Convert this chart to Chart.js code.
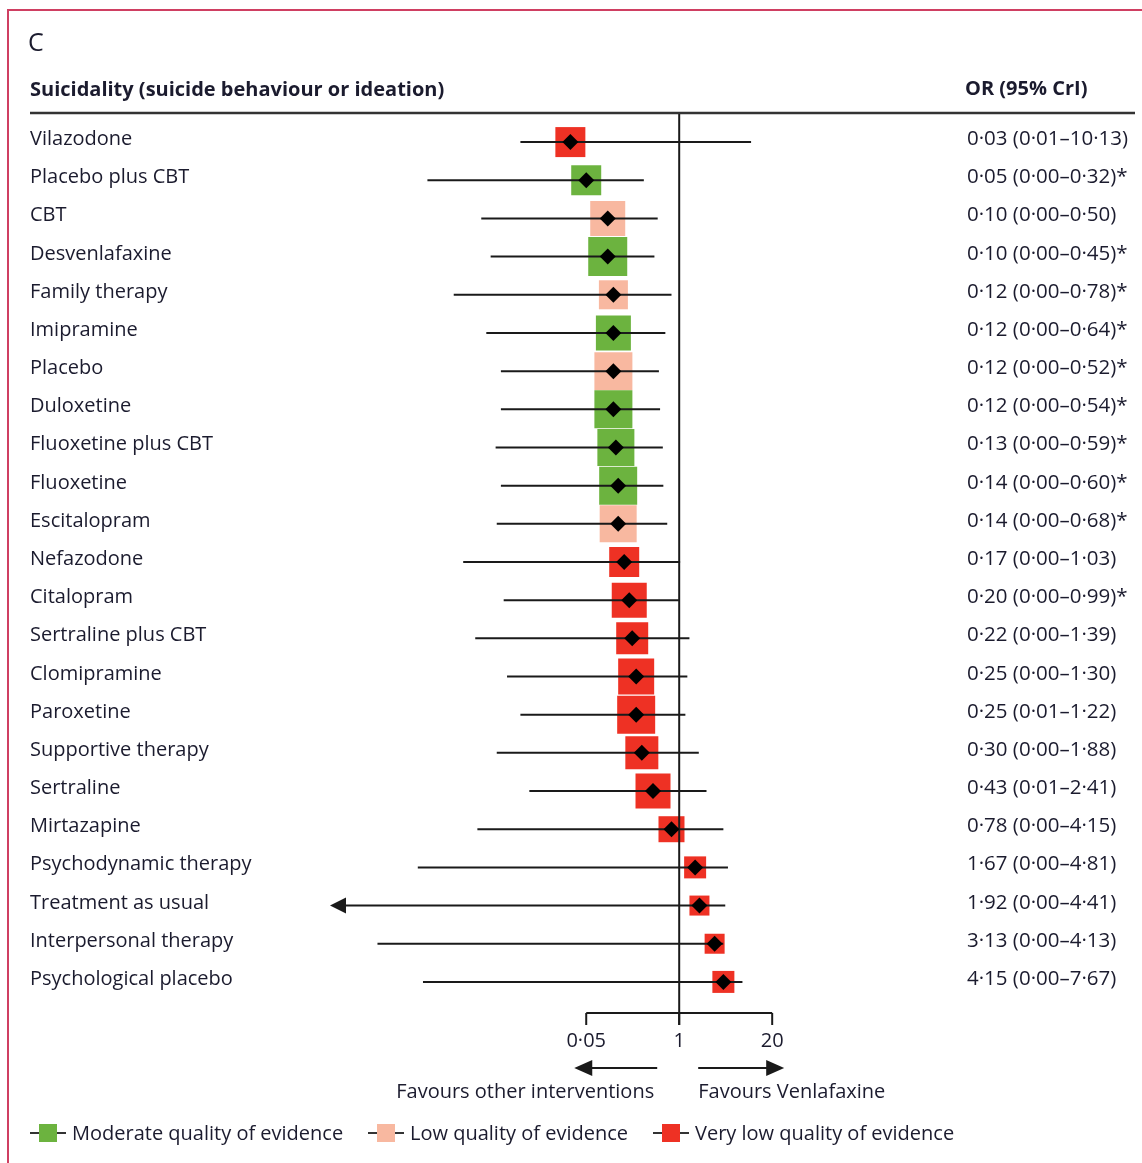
<!DOCTYPE html>
<html>
<head>
<meta charset="utf-8">
<script src="https://cdn.jsdelivr.net/npm/chart.js@4.4.1/dist/chart.umd.min.js"></script>
<style>
  html, body { margin: 0; padding: 0; background: #ffffff; }
  #wrap { width: 1142px; height: 1163px; position: relative; overflow: hidden; }
  canvas { display: block; }
</style>
</head>
<body>
<div id="wrap"><canvas id="forest" width="1142" height="1163"></canvas></div>
<script>
// Suicidality (suicide behaviour or ideation): odds ratios vs venlafaxine
const treatments = [
  'Vilazodone', 'Placebo plus CBT', 'CBT', 'Desvenlafaxine', 'Family therapy',
  'Imipramine', 'Placebo', 'Duloxetine', 'Fluoxetine plus CBT', 'Fluoxetine',
  'Escitalopram', 'Nefazodone', 'Citalopram', 'Sertraline plus CBT', 'Clomipramine',
  'Paroxetine', 'Supportive therapy', 'Sertraline', 'Mirtazapine', 'Psychodynamic therapy',
  'Treatment as usual', 'Interpersonal therapy', 'Psychological placebo'
];
const oddsRatios = [
  0.03, 0.05, 0.10, 0.10, 0.12, 0.12, 0.12, 0.12, 0.13, 0.14, 0.14, 0.17,
  0.20, 0.22, 0.25, 0.25, 0.30, 0.43, 0.78, 1.67, 1.92, 3.13, 4.15
];
// lower credible limits (most round to 0.00)
const lowerCrI = [
  0.006, 0.0003, 0.0017, 0.0023, 0.0007, 0.002, 0.0032, 0.0032, 0.0027, 0.0032,
  0.0028, 0.00095, 0.0035, 0.0014, 0.0039, 0.006, 0.0028, 0.008, 0.0015, 0.00022,
  0.000005, 0.00006, 0.00026
];
const upperCrI = [
  10.13, 0.32, 0.50, 0.45, 0.78, 0.64, 0.52, 0.54, 0.59, 0.60, 0.68, 1.03,
  0.99, 1.39, 1.30, 1.22, 1.88, 2.41, 4.15, 4.81, 4.41, 4.13, 7.67
];
const significant = [
  false, true, false, true, true, true, true, true, true, true, true, false,
  true, false, false, false, false, false, false, false, false, false, false
];
// 'moderate' | 'low' | 'verylow'
const evidenceQuality = [
  'verylow', 'moderate', 'low', 'moderate', 'low', 'moderate', 'low', 'moderate',
  'moderate', 'moderate', 'low', 'verylow', 'verylow', 'verylow', 'verylow',
  'verylow', 'verylow', 'verylow', 'verylow', 'verylow', 'verylow', 'verylow', 'verylow'
];
// relative study weight (square size)
const studyWeight = [
  30, 30, 35, 39, 29, 35, 38, 38, 37, 38, 37, 30, 35, 32, 36, 38, 33, 35, 26, 22, 20, 20, 22
];
const axisTicks = [0.05, 1, 20];
const axisTickLabels = ['0·05', '1', '20'];
const qualityKeys = ['moderate', 'low', 'verylow'];
const qualityNames = ['Moderate quality of evidence', 'Low quality of evidence', 'Very low quality of evidence'];

const qualityColours = { moderate: '#6cb33f', low: '#f8b8a0', verylow: '#ee3124' };
const INK = '#1b1b2e';
const LINE = '#1a1a1a';
const FONT = '"Open Sans", "DejaVu Sans", sans-serif';

const fmt = v => v.toFixed(2).replace('.', '·');
const intervalText = oddsRatios.map((v, i) =>
  `${fmt(v)} (${fmt(lowerCrI[i])}–${fmt(upperCrI[i])})` + (significant[i] ? '*' : ''));

const X_MIN = 1.3e-5, X_MAX = 49;

function text(ctx, s, x, y, font, align = 'left', colour = INK) {
  ctx.save();
  ctx.font = font;
  ctx.fillStyle = colour;
  ctx.textAlign = align;
  ctx.textBaseline = 'alphabetic';
  ctx.fillText(s, x, y);
  ctx.restore();
}

function arrowHead(ctx, tipX, y, dir, len, half) {
  ctx.beginPath();
  ctx.moveTo(tipX, y);
  ctx.lineTo(tipX - dir * len, y - half);
  ctx.lineTo(tipX - dir * len, y + half);
  ctx.closePath();
  ctx.fill();
}

const forestDecor = {
  id: 'forestDecor',
  afterDatasetDraw(chart, args) {
    if (args.index !== 1) return;           // squares are done: add the reference line and intervals
    const { ctx, chartArea } = chart;
    const xs = chart.scales.x, ys = chart.scales.y;
    ctx.save();
    ctx.strokeStyle = LINE;
    ctx.fillStyle = LINE;
    // line of no effect
    const x1 = xs.getPixelForValue(1);
    ctx.lineWidth = 2;
    ctx.beginPath();
    ctx.moveTo(x1, 113);
    ctx.lineTo(x1, ys.bottom + 24);
    ctx.stroke();
    // credible intervals
    ctx.lineWidth = 2;
    treatments.forEach((_, i) => {
      const y = ys.getPixelForValue(i);
      const off = lowerCrI[i] < X_MIN;
      const xa = off ? chartArea.left : xs.getPixelForValue(lowerCrI[i]);
      const xb = xs.getPixelForValue(upperCrI[i]);
      ctx.beginPath();
      ctx.moveTo(off ? xa + 10 : xa, y);
      ctx.lineTo(xb, y);
      ctx.stroke();
      if (off) arrowHead(ctx, xa, y, -1, 16, 8);
    });
    ctx.restore();
  },
  afterDraw(chart) {
    const { ctx } = chart;
    const xs = chart.scales.x, ys = chart.scales.y;
    ctx.save();
    // frame
    ctx.strokeStyle = '#cf3f62';
    ctx.lineWidth = 2;
    ctx.beginPath();
    ctx.moveTo(8, 1170);
    ctx.lineTo(8, 10);
    ctx.lineTo(1150, 10);
    ctx.stroke();

    text(ctx, 'C', 28, 51, `25px ${FONT}`);
    text(ctx, 'Suicidality (suicide behaviour or ideation)', 30, 96, `bold 20px ${FONT}`);
    text(ctx, 'OR (95% CrI)', 965, 95, `bold 20px ${FONT}`);
    ctx.strokeStyle = '#333333';
    ctx.lineWidth = 2.5;
    ctx.beginPath();
    ctx.moveTo(30, 113);
    ctx.lineTo(1135, 113);
    ctx.stroke();

    treatments.forEach((name, i) => {
      const y = ys.getPixelForValue(i) + 3;
      text(ctx, name, 30, y, `20px ${FONT}`);
      text(ctx, intervalText[i], 967, y, `20.5px ${FONT}`);
    });

    // log axis
    const axisY = ys.bottom + 12;
    const t0 = xs.getPixelForValue(axisTicks[0]);
    const t1 = xs.getPixelForValue(axisTicks[axisTicks.length - 1]);
    ctx.strokeStyle = LINE;
    ctx.fillStyle = LINE;
    ctx.lineWidth = 2;
    ctx.beginPath();
    ctx.moveTo(t0, axisY);
    ctx.lineTo(t1, axisY);
    ctx.stroke();
    axisTicks.forEach((v, k) => {
      const px = xs.getPixelForValue(v);
      ctx.beginPath();
      ctx.moveTo(px, axisY);
      ctx.lineTo(px, axisY + 12);
      ctx.stroke();
      text(ctx, axisTickLabels[k], px, axisY + 34, `20px ${FONT}`, 'center');
    });

    // direction arrows
    const ay = axisY + 55;
    const xOne = xs.getPixelForValue(1);
    ctx.beginPath();
    ctx.moveTo(xOne - 22, ay);
    ctx.lineTo(t0 + 4, ay);
    ctx.stroke();
    arrowHead(ctx, t0 - 12, ay, -1, 18, 8);
    ctx.beginPath();
    ctx.moveTo(xOne + 19, ay);
    ctx.lineTo(t1, ay);
    ctx.stroke();
    arrowHead(ctx, t1 + 12, ay, 1, 18, 8);
    text(ctx, 'Favours other interventions', xOne - 25, ay + 30, `20px ${FONT}`, 'right');
    text(ctx, 'Favours Venlafaxine', xOne + 19, ay + 30, `20px ${FONT}`, 'left');

    // quality legend
    const ly = 1133;
    const legendX = [30, 368, 653];
    qualityKeys.forEach((q, k) => {
      const lx = legendX[k];
      ctx.strokeStyle = '#333333';
      ctx.lineWidth = 2;
      ctx.beginPath();
      ctx.moveTo(lx, ly);
      ctx.lineTo(lx + 36, ly);
      ctx.stroke();
      ctx.fillStyle = qualityColours[q];
      ctx.fillRect(lx + 9, ly - 9, 18, 18);
      text(ctx, qualityNames[k], lx + 42, ly + 7, `20px ${FONT}`);
    });
    ctx.restore();
  }
};

new Chart(document.getElementById('forest'), {
  type: 'scatter',
  data: {
    datasets: [
      {
        label: 'OR',
        data: oddsRatios.map((v, i) => ({ x: v, y: i })),
        pointStyle: 'rectRot',
        pointRadius: 8,
        backgroundColor: '#000000',
        borderWidth: 0
      },
      {
        label: 'weight',
        data: oddsRatios.map((v, i) => ({ x: v, y: i })),
        pointStyle: 'rect',
        pointRadius: studyWeight.map(w => (w / 2) / Math.SQRT1_2),
        backgroundColor: evidenceQuality.map(q => qualityColours[q]),
        borderWidth: 0
      }
    ]
  },
  options: {
    responsive: false,
    animation: false,
    events: [],
    layout: { padding: { left: 330, right: 342, top: 123, bottom: 162 } },
    plugins: { legend: { display: false }, tooltip: { enabled: false } },
    scales: {
      x: { type: 'logarithmic', min: X_MIN, max: X_MAX, display: false },
      y: { type: 'linear', min: -0.5, max: treatments.length - 0.5, reverse: true, display: false }
    }
  },
  plugins: [forestDecor]
});
</script>
</body>
</html>
